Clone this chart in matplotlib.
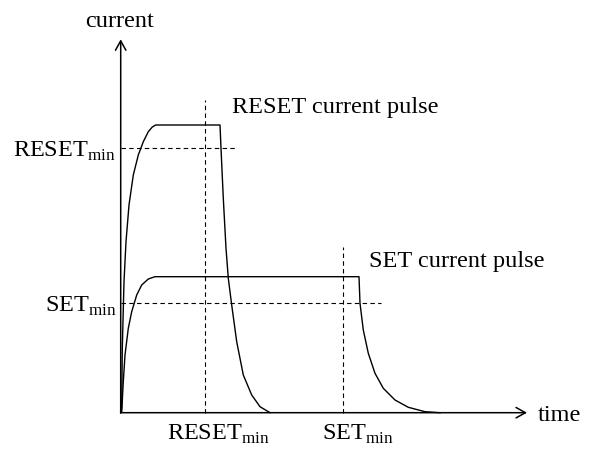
import matplotlib
matplotlib.use("Agg")
import matplotlib.pyplot as plt

plt.rcParams["font.family"] = ["Liberation Serif", "DejaVu Serif"]
plt.rcParams["mathtext.fontset"] = "custom"
plt.rcParams["mathtext.rm"] = "Liberation Serif"

# RESET current pulse (time, current)
reset_t = [0.0, 0.10, 0.16, 0.33, 0.53, 0.83, 1.26, 1.76, 2.26, 2.76, 3.16, 3.5,
           9.93, 10.03, 10.26, 10.53, 10.76, 11.1, 11.6, 12.26, 13.1, 13.93, 14.93]
reset_i = [0.0, 0.44, 6.47, 13.1, 17.1, 20.77, 23.77, 25.77, 27.1, 28.1, 28.57, 28.77,
           28.77, 26.44, 21.44, 16.44, 13.44, 10.77, 7.1, 3.77, 1.77, 0.6, 0.0]

# SET current pulse
set_t = [0.0, 0.1, 0.26, 0.43, 0.76, 1.1, 1.6, 2.1, 2.76, 3.43,
         23.83, 23.93, 24.26, 24.76, 25.43, 26.26, 27.43, 28.76, 30.43, 31.93]
set_i = [0.0, 0.1, 3.1, 5.77, 8.44, 10.1, 11.77, 12.77, 13.37, 13.6,
         13.6, 10.94, 8.27, 5.94, 3.94, 2.44, 1.27, 0.54, 0.1, 0.0]

# thresholds
reset_min_level = 26.5
set_min_level = 10.94
reset_min_time = 8.46
set_min_time = 22.26

fig = plt.figure(figsize=(5.89, 4.49), dpi=100)
ax = fig.add_axes([0, 0, 1, 1])
ax.set_xlim(-12.07, 46.83)
ax.set_ylim(-3.63, 41.27)
ax.axis("off")

# axes with arrows
arrow = dict(arrowstyle="->,head_length=0.45,head_width=0.25", lw=1.1, color="black",
             shrinkA=0, shrinkB=0, mutation_scale=15)
ax.annotate("", xy=(40.63, 0), xytext=(0, 0), arrowprops=arrow)
ax.annotate("", xy=(0, 37.34), xytext=(0, 0), arrowprops=arrow)

ax.plot(reset_t, reset_i, color="black", lw=1.0)
ax.plot(set_t, set_i, color="black", lw=1.0)

dash = dict(color="black", lw=0.8, linestyle=(0, (4, 3)))
ax.plot([0, 11.5], [reset_min_level, reset_min_level], **dash)
ax.plot([0, 26.0], [set_min_level, set_min_level], **dash)
ax.plot([reset_min_time, reset_min_time], [0, 31.3], **dash)
ax.plot([set_min_time, set_min_time], [0, 16.6], **dash)

fs = 17.5
ax.text(-0.1, 38.57, "current", ha="center", va="baseline", fontsize=fs)
ax.text(41.73, -0.8, "time", ha="left", va="baseline", fontsize=fs)
ax.text(11.1, 30.0, "RESET current pulse", ha="left", va="baseline", fontsize=fs)
ax.text(24.83, 14.6, "SET current pulse", ha="left", va="baseline", fontsize=fs)

ax.text(-10.74, 25.6, r"RESET$_{\mathrm{min}}$", ha="left", va="baseline", fontsize=fs)
ax.text(-7.57, 10.04, r"SET$_{\mathrm{min}}$", ha="left", va="baseline", fontsize=fs)
ax.text(4.6, -2.66, r"RESET$_{\mathrm{min}}$", ha="left", va="baseline", fontsize=fs)
ax.text(20.1, -2.66, r"SET$_{\mathrm{min}}$", ha="left", va="baseline", fontsize=fs)

fig.savefig("out.png", dpi=100)
